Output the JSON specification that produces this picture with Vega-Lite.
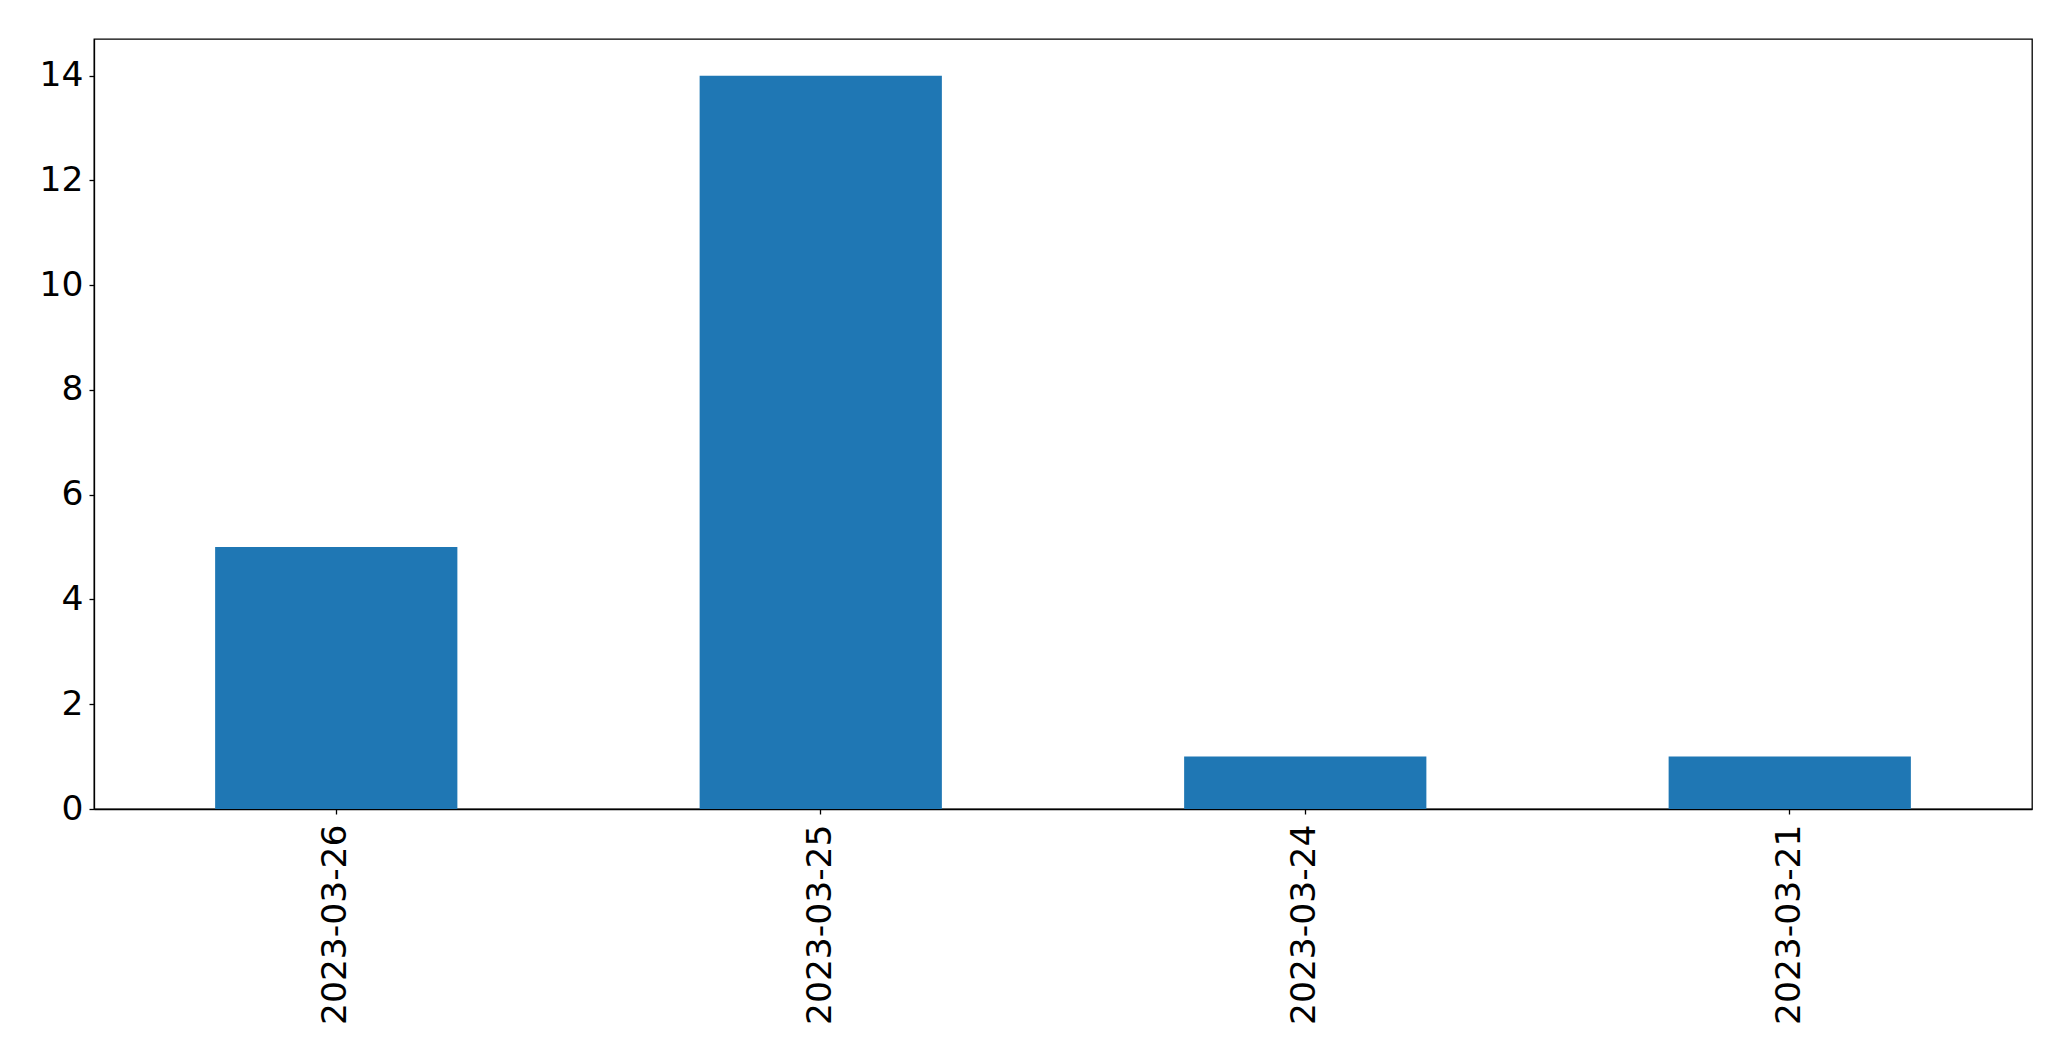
{
  "$schema": "https://vega.github.io/schema/vega-lite/v6.json",
  "autosize": "none",
  "width": 1938,
  "height": 770,
  "padding": {"left": 94, "top": 39, "right": 39, "bottom": 252},
  "background": "white",
  "config": {
    "view": {"stroke": "black", "strokeWidth": 1.3},
    "font": "DejaVu Sans",
    "axis": {
      "labelFont": "DejaVu Sans",
      "labelFontSize": 34.5,
      "labelColor": "black",
      "labelLimit": 0,
      "tickColor": "black",
      "domainColor": "black",
      "tickSize": 5,
      "tickWidth": 1.3,
      "domainWidth": 1.3,
      "grid": false,
      "title": null
    }
  },
  "data": {
    "values": [
      {"date": "2023-03-26", "count": 5},
      {"date": "2023-03-25", "count": 14},
      {"date": "2023-03-24", "count": 1},
      {"date": "2023-03-21", "count": 1}
    ]
  },
  "mark": {"type": "bar", "color": "#1f77b4"},
  "encoding": {
    "x": {
      "field": "date",
      "type": "nominal",
      "sort": null,
      "scale": {"paddingInner": 0.5, "paddingOuter": 0.25},
      "axis": {"labelAngle": 270, "labelAlign": "right", "labelBaseline": "middle", "labelPadding": 10}
    },
    "y": {
      "field": "count",
      "type": "quantitative",
      "scale": {"domain": [0, 14.7], "nice": false},
      "axis": {"values": [0, 2, 4, 6, 8, 10, 12, 14], "labelPadding": 6}
    }
  }
}
